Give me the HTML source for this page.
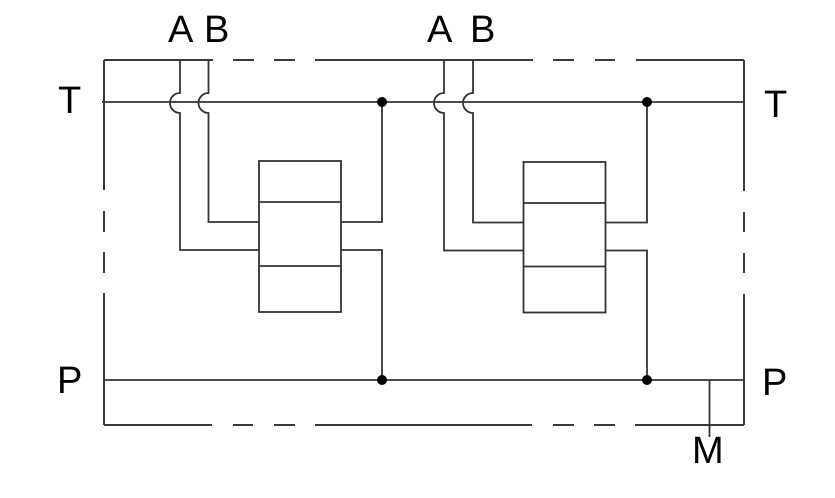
<!DOCTYPE html>
<html>
<head>
<meta charset="utf-8">
<style>
html,body{margin:0;padding:0;background:#fff;}
svg{display:block;}
text{font-family:"Liberation Sans",Arial,sans-serif;font-size:38px;fill:#000;}
</style>
</head>
<body>
<svg width="835" height="498" viewBox="0 0 835 498" xmlns="http://www.w3.org/2000/svg">
<g fill="none" stroke="#3a3a3a" stroke-width="2">
  <!-- outer dashed box: top -->
  <path d="M104,60 H213 M233,60 H254 M274,60 H295 M315,60 H533 M553,60 H574 M595,60 H615 M636,60 H744"/>
  <!-- bottom -->
  <path d="M104,425 H212 M233,425 H253 M274,425 H295 M315,425 H532 M553,425 H574 M594,425 H615 M635,425 H744"/>
  <!-- left -->
  <path d="M104,60 V190 M104,211 V232 M104,252 V273 M104,293 V425"/>
  <!-- right -->
  <path d="M744,60 V191 M744,212 V232 M744,253 V273 M744,294 V425"/>
</g>
<g fill="none" stroke="#333" stroke-width="1.8">
  <!-- T line -->
  <path d="M102,102 H744"/>
  <!-- P line -->
  <path d="M104,380 H744"/>
  <!-- M line -->
  <path d="M709.5,380 V437"/>

  <!-- Valve 1 -->
  <path d="M180,60 V93 A10,10 0 0,0 180,113 V250 H259"/>
  <path d="M208.5,60 V93 A10,10 0 0,0 208.5,113 V222 H259"/>
  <rect x="259" y="161" width="82" height="151"/>
  <path d="M259,202 H341 M259,266 H341"/>
  <path d="M341,222 H382 V102"/>
  <path d="M341,250 H382 V380"/>

  <!-- Valve 2 -->
  <path d="M444,60 V93 A10,10 0 0,0 444,113 V250.5 H523.5"/>
  <path d="M473,60 V93 A10,10 0 0,0 473,113 V222.5 H523.5"/>
  <rect x="523.5" y="162" width="82" height="150.5"/>
  <path d="M523.5,203 H605.5 M523.5,266.5 H605.5"/>
  <path d="M605.5,222.5 H647 V102"/>
  <path d="M605.5,250.5 H647 V380"/>
</g>
<g fill="#000">
  <circle cx="382" cy="102" r="5"/>
  <circle cx="647" cy="102" r="5"/>
  <circle cx="382" cy="380" r="5"/>
  <circle cx="647" cy="380" r="5"/>
</g>
<text x="168" y="42">A</text>
<text x="204" y="42">B</text>
<text x="427" y="42">A</text>
<text x="470" y="42">B</text>
<text x="58" y="113">T</text>
<text x="57" y="393">P</text>
<text x="764" y="117">T</text>
<text x="762" y="395">P</text>
<text x="692" y="463">M</text>
</svg>
</body>
</html>
